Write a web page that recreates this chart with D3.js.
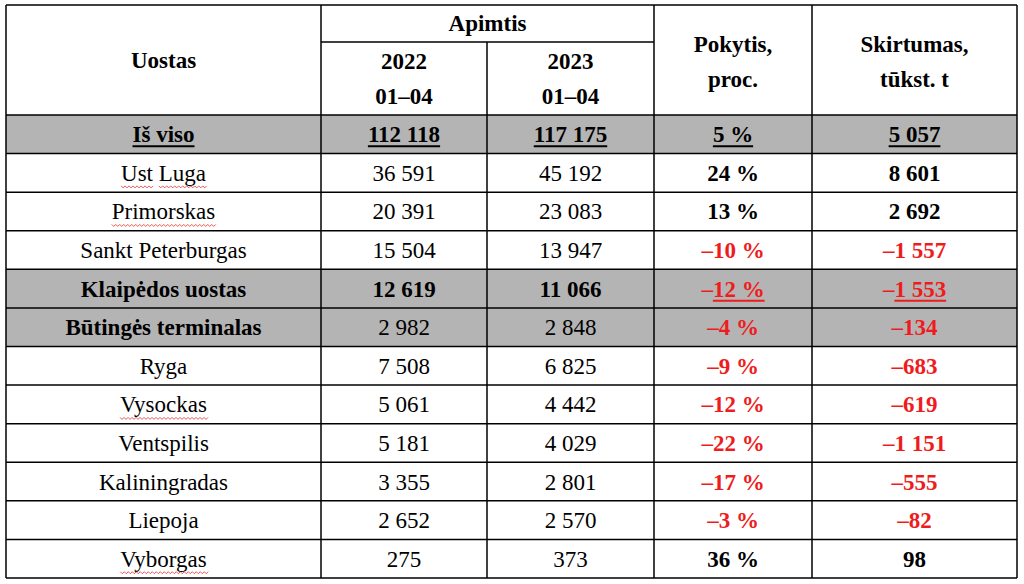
<!DOCTYPE html>
<html><head><meta charset="utf-8">
<script src="https://cdn.jsdelivr.net/npm/d3@7"></script>
<style>body{margin:0;background:#fff}text{font-family:"Liberation Serif","Times New Roman",serif}</style>
</head><body><svg id="c" width="1024" height="584"></svg>
<script>
const ports=["Iš viso","Ust Luga","Primorskas","Sankt Peterburgas","Klaipėdos uostas","Būtingės terminalas","Ryga","Vysockas","Ventspilis","Kaliningradas","Liepoja","Vyborgas"];
const vol2022=["112 118","36 591","20 391","15 504","12 619","2 982","7 508","5 061","5 181","3 355","2 652","275"];
const vol2023=["117 175","45 192","23 083","13 947","11 066","2 848","6 825","4 442","4 029","2 801","2 570","373"];
const change=["5 %","24 %","13 %","–10 %","–12 %","–4 %","–9 %","–12 %","–22 %","–17 %","–3 %","36 %"];
const diff=["5 057","8 601","2 692","–1 557","–1 553","–134","–683","–619","–1 151","–555","–82","98"];
const greyRows=[0,4,5];
const boldNameRows=[0,4,5];
const boldVolRows=[0,4];
const underlineRows=[0];
const squiggle={"Ust Luga":[[0,3],[4,8]],"Primorskas":[[0,10]],"Vysockas":[[0,8]],"Vyborgas":[[0,8]]};

const svg=d3.select("#c");
const colEdges=[6,321,487,654,812,1017];
const x=i=>colEdges[i], cx=i=>(colEdges[i]+colEdges[i+1])/2;
const tableTop=5, headBot=115, tableBottom=578;
const y=d3.scaleBand().domain(d3.range(ports.length)).range([headBot,tableBottom]);
const FS=23;
greyRows.forEach(r=>svg.append("rect").attr("x",x(0)).attr("y",y(r)).attr("width",x(5)-x(0)).attr("height",y.bandwidth()).attr("fill","#b4b4b4"));
const L=(x1,y1,x2,y2,w=1.5)=>svg.append("line").attr("x1",x1).attr("y1",y1).attr("x2",x2).attr("y2",y2).attr("stroke","#000").attr("stroke-width",w);
L(x(0),tableTop,x(5),tableTop);L(x(0),tableBottom,x(5),tableBottom);
colEdges.forEach((c,i)=>L(c,(i==2?42:tableTop),c,tableBottom));
L(x(1),42,x(3),42);
L(x(0),headBot,x(5),headBot);
ports.forEach((p,i)=>{if(i>0)L(x(0),y(i),x(5),y(i));});
const T=(t,xx,yy,o={})=>svg.append("text").attr("x",xx).attr("y",yy).attr("text-anchor","middle").attr("font-size",FS).attr("font-weight",o.b?"bold":"normal").attr("fill",o.c||"#000").text(t);
T("Uostas",cx(0),68,{b:1});
T("Apimtis",(x(1)+x(3))/2,31,{b:1});
T("2022",cx(1),69,{b:1});T("01–04",cx(1),104,{b:1});
T("2023",cx(2),69,{b:1});T("01–04",cx(2),104,{b:1});
T("Pokytis,",cx(3),52,{b:1});T("proc.",cx(3),87,{b:1});
T("Skirtumas,",cx(4),52,{b:1});T("tūkst. t",cx(4),87,{b:1});
function ul(t,from,col){const n=t.node();const s=n.getStartPositionOfChar(from).x;const bb=n.getBBox();
 svg.append("line").attr("x1",s).attr("x2",bb.x+bb.width).attr("y1",+t.attr("y")+4).attr("y2",+t.attr("y")+4).attr("stroke",col).attr("stroke-width",2);}
ports.forEach((p,i)=>{
 const yy=y(i)+y.bandwidth()/2+8;
 const nb=boldNameRows.includes(i), vb=boldVolRows.includes(i), u=underlineRows.includes(i);
 const t0=T(p,cx(0),yy,{b:nb});
 const t1=T(vol2022[i],cx(1),yy,{b:vb}), t2=T(vol2023[i],cx(2),yy,{b:vb});
 const neg=change[i].startsWith("–");
 const c=neg?"#ee1c1c":"#000";
 const t3=T(change[i],cx(3),yy,{b:1,c}), t4=T(diff[i],cx(4),yy,{b:1,c});
 if(u){[t0,t1,t2,t3,t4].forEach(t=>ul(t,0,"#000"));}
 if(i==4){ul(t3,1,c);ul(t4,1,c);}
 if(squiggle[p]){const n=t0.node();squiggle[p].forEach(([a,b])=>{
   const s=n.getStartPositionOfChar(a).x, e=n.getEndPositionOfChar(b-1).x;
   let d="M"+s+","+(yy+5);for(let xx=s;xx<e;xx+=4)d+=" l2,2 l2,-2";
   svg.append("path").attr("d",d).attr("fill","none").attr("stroke","#e03030").attr("stroke-width",0.8);});}
});
</script></body></html>
